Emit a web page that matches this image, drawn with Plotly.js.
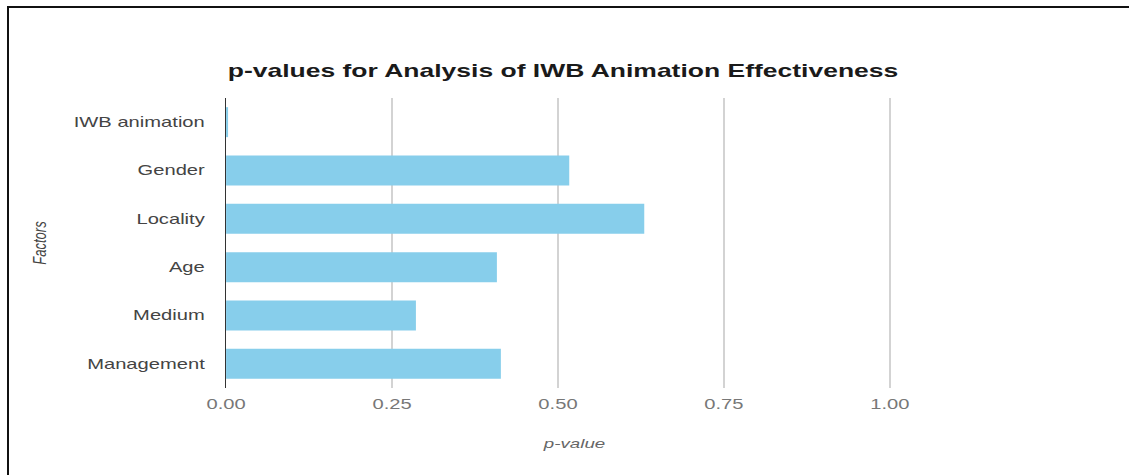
<!DOCTYPE html>
<html><head><meta charset="utf-8">
<script src="https://cdn.plot.ly/plotly-3.0.1.min.js"></script>
<style>
html,body{margin:0;padding:0;background:#fff;overflow:hidden;width:1129px;height:475px;}
#chart{position:absolute;left:0;top:0;width:784px;height:475px;transform:scaleX(1.44);transform-origin:0 0;}
#frame{position:absolute;left:7px;top:6px;width:1130px;height:480px;border-top:2px solid #111;border-left:2px solid #111;pointer-events:none;}
</style></head><body>
<div id="chart"></div><div id="frame"></div>
<script>
const factors = ['IWB animation', 'Gender', 'Locality', 'Age', 'Medium', 'Management'];
const pValues = [0.003, 0.517, 0.630, 0.408, 0.286, 0.414];
const xTickValues = [0, 0.25, 0.5, 0.75, 1.0];
const xTickLabels = ['0.00', '0.25', '0.50', '0.75', '1.00'];
const chartTitle = 'p-values for Analysis of IWB Animation Effectiveness';
const xTitle = 'p-value';
const yTitle = 'Factors';

const FONT = '"Liberation Sans", Arial, sans-serif';

const trace = {
  type: 'bar',
  orientation: 'h',
  x: pValues,
  y: factors,
  marker: {color: '#87CEEB'},
  hoverinfo: 'x+y'
};

const layout = {
  width: 784,
  height: 475,
  margin: {l: 157, r: 143, t: 98, b: 87, pad: 0},
  paper_bgcolor: '#ffffff',
  plot_bgcolor: '#ffffff',
  font: {family: FONT, color: '#444'},
  showlegend: false,
  bargap: 0.38,
  title: {
    text: chartTitle,
    font: {family: FONT, size: 18.4, color: '#1a1a1a', weight: 'bold'},
    xref: 'container', yref: 'container',
    x: 0.4987, y: 1 - 71 / 475,
    xanchor: 'center', yanchor: 'middle'
  },
  xaxis: {
    range: [0, 1.05],
    tickvals: xTickValues,
    ticktext: xTickLabels,
    showgrid: true,
    gridcolor: '#d3d3d3',
    gridwidth: 1,
    zeroline: false,
    showline: false,
    ticks: 'outside',
    ticklen: 3,
    tickcolor: 'rgba(0,0,0,0)',
    tickfont: {family: FONT, size: 14, color: '#777'},
    title: {text: xTitle, font: {family: FONT, size: 13, color: '#666', style: 'italic'}, standoff: 28},
    fixedrange: true
  },
  yaxis: {
    type: 'category',
    autorange: 'reversed',
    showgrid: false,
    zeroline: false,
    showline: true,
    linecolor: '#333333',
    linewidth: 1,
    ticks: 'outside',
    ticklen: 11,
    tickcolor: 'rgba(0,0,0,0)',
    tickfont: {family: FONT, size: 14, color: '#444'},
    title: {text: yTitle, font: {family: FONT, size: 13, color: '#444', style: 'italic'}, standoff: 15},
    fixedrange: true
  }
};

Plotly.newPlot('chart', [trace], layout, {displayModeBar: false, staticPlot: true});
</script>
</body></html>
